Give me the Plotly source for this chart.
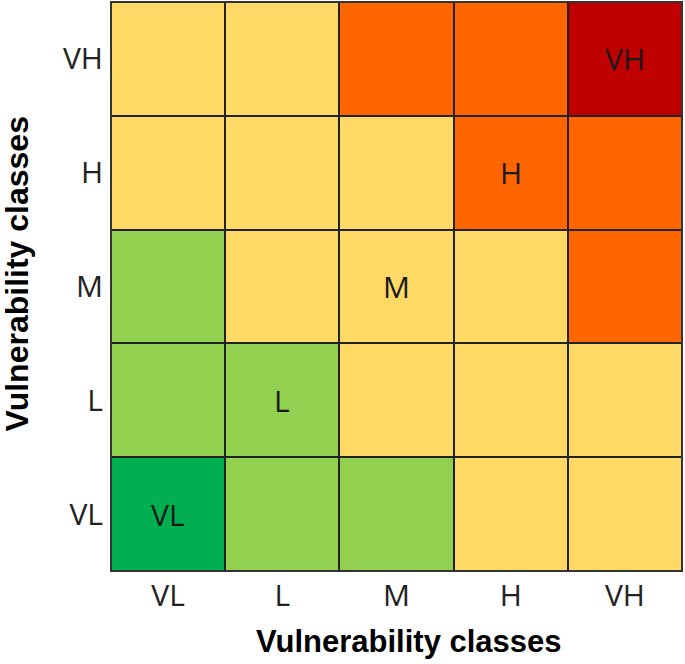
import plotly.graph_objects as go

x_classes = ["VL", "L", "M", "H", "VH"]
y_classes = ["VL", "L", "M", "H", "VH"]
# risk level per cell: rows = y classes (VL..VH), cols = x classes (VL..VH)
# 0 very low, 1 low, 2 medium, 3 high, 4 very high
risk = [
    [0, 1, 1, 2, 2],  # VL
    [1, 1, 2, 2, 2],  # L
    [1, 2, 2, 2, 3],  # M
    [2, 2, 2, 3, 3],  # H
    [2, 2, 3, 3, 4],  # VH
]
level_colors = ["#00B050", "#92D050", "#FFD966", "#FF6600", "#C00000"]
diag_labels = ["VL", "L", "M", "H", "VH"]
axis_title = "Vulnerability classes"

colorscale = []
n = len(level_colors)
for i, c in enumerate(level_colors):
    colorscale.append([i / n, c])
    colorscale.append([(i + 1) / n, c])

fig = go.Figure(go.Heatmap(
    z=risk, x=x_classes, y=y_classes,
    zmin=-0.5, zmax=n - 0.5,
    colorscale=colorscale, showscale=False,
    xgap=2, ygap=2, hoverinfo="skip",
))

for i, lab in enumerate(diag_labels):
    fig.add_annotation(x=x_classes[i], y=y_classes[i], text=lab, showarrow=False,
                       font=dict(family="Open Sans, Arial", size=30, color="#1a1a1a"))

# axis titles
fig.add_annotation(xref="paper", yref="paper", x=0.5219, y=-0.1239,
                   text="<b>" + axis_title + "</b>", showarrow=False,
                   xanchor="center", yanchor="middle",
                   font=dict(family="Liberation Sans, Arial", size=31, color="black"))
fig.add_annotation(xref="paper", yref="paper", x=-0.1655, y=0.522,
                   text="<b>" + axis_title + "</b>", showarrow=False, textangle=-90,
                   xanchor="center", yanchor="middle",
                   font=dict(family="Liberation Sans, Arial", size=32, color="black"))

fig.add_shape(type="rect", xref="paper", yref="paper", x0=0, y0=0, x1=1, y1=1,
              line=dict(color="#333333", width=2))

fig.update_layout(
    width=685, height=664,
    margin=dict(l=111, r=3, t=2, b=93, autoexpand=False),
    paper_bgcolor="white", plot_bgcolor="#222222",
    font=dict(family="Open Sans, Arial", color="#222222"),
    xaxis=dict(showgrid=False, zeroline=False, ticks="", tickfont=dict(size=30),
               ticklabelstandoff=4),
    yaxis=dict(showgrid=False, zeroline=False, ticks="", tickfont=dict(size=30),
               ticklabelstandoff=7),
)

fig.write_html("out.html", config={"displayModeBar": False},
               post_script="document.body.style.margin='0';document.body.style.overflow='hidden';")
